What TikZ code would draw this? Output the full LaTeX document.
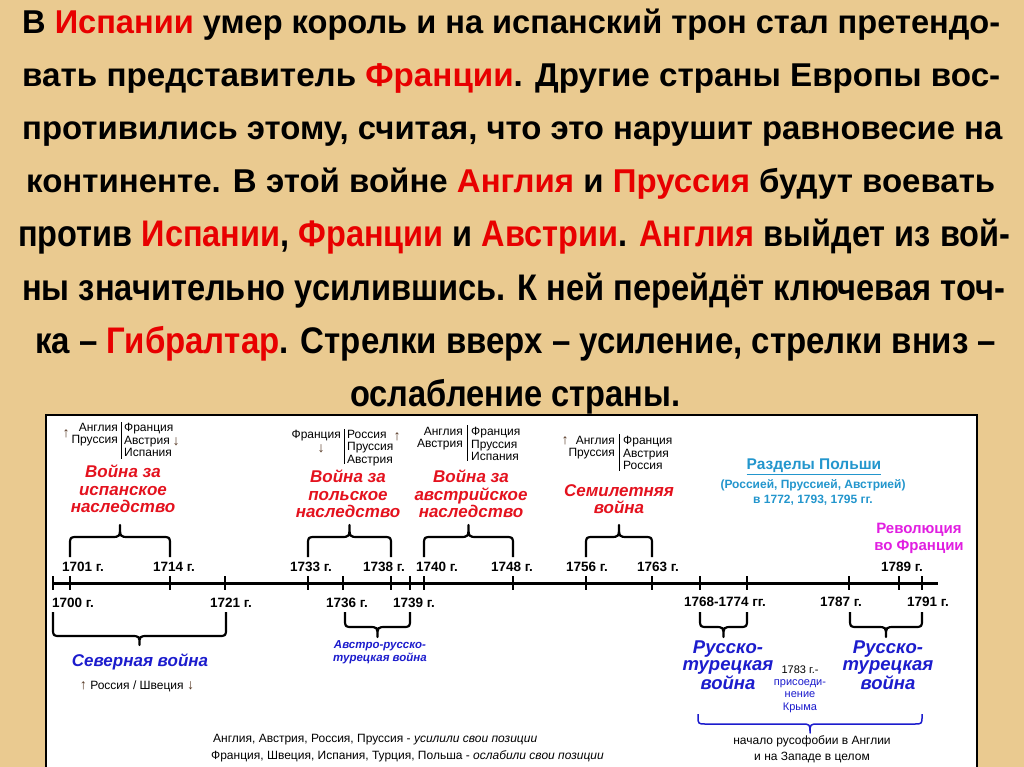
\documentclass[tikz,border=0pt]{standalone}
\usepackage{fontspec}
\usepackage{graphicx}
\setmainfont{Liberation Sans}
\definecolor{paper}{RGB}{234,202,144}
\definecolor{tred}{RGB}{232,0,0}
\definecolor{wred}{RGB}{228,18,30}
\definecolor{wblue}{RGB}{28,28,205}
\definecolor{pcyan}{RGB}{35,150,205}
\definecolor{rmag}{RGB}{225,30,225}
\definecolor{arr}{RGB}{85,55,35}
\newcommand{\R}[1]{\textcolor{tred}{#1}}
\newcommand{\fitw}[2]{\resizebox{#1pt}{\height}{#2}}
\newcommand{\curlyb}[7][brs]{%
  \pgfmathsetmacro\cbxc{(#2+#3)/2}%
  \draw[#1] (#2,#4) -- (#2,#6) .. controls (#2,#5) .. (#2+8,#5) -- (\cbxc-9,#5)
    .. controls (\cbxc,#5) .. (\cbxc,#7) .. controls (\cbxc,#5) .. (\cbxc+9,#5)
    -- (#3-8,#5) .. controls (#3,#5) .. (#3,#6) -- (#3,#4);}
\tikzset{
  ttl/.style={anchor=base west, inner sep=0, font=\bfseries\fontsize{33}{40}\selectfont},
  ttn/.style={anchor=base west, inner sep=0, font=\bfseries\fontsize{37}{40}\selectfont},
  yr/.style={inner sep=0, font=\bfseries\fontsize{13.5}{15}\selectfont},
  tickmark/.style={line width=2.4pt},
  ally/.style={inner sep=0, font=\fontsize{12}{12.5}\selectfont},
  allyL/.style={ally, anchor=north east, align=right},
  allyR/.style={ally, anchor=north west, align=left},
  bar/.style={line width=0.9pt},
  war/.style={inner sep=0, anchor=north, align=center, text=wred, font=\bfseries\itshape\fontsize{17}{17.5}\selectfont},
  bwar/.style={inner sep=0, align=center, text=wblue, font=\bfseries\itshape\fontsize{18.5}{17}\selectfont},
  brs/.style={line width=2.2pt, line join=round},
  arw/.style={inner sep=0, text=arr, font=\bfseries\fontsize{14}{14}\selectfont},
  small/.style={inner sep=0, align=center, font=\fontsize{11}{12.5}\selectfont},
}
\begin{document}
\begin{tikzpicture}[x=1pt,y=-1pt]
\useasboundingbox (0,0) rectangle (1024,767);
\fill[paper] (0,0) rectangle (1024,767);

% ---------- title text ----------
\node[ttl] (t1) at (22,34)  {\fitw{978}{В \R{Испании} умер король и на испанский трон стал претендо-}};
\node[ttl] (t2) at (22,87)  {\fitw{978}{вать представитель \R{Франции}. Другие страны Европы вос-}};
\node[ttl] (t3) at (22,140) {\fitw{980}{противились этому, считая, что это нарушит равновесие на}};
\node[ttl] (t4) at (26,193) {\fitw{969}{континенте. В этой войне \R{Англия} и \R{Пруссия} будут воевать}};
\node[ttn] (t5) at (18,247) {\fitw{992}{против \R{Испании}, \R{Франции} и \R{Австрии}. \R{Англия} выйдет из вой-}};
\node[ttn] (t6) at (22,300) {\fitw{983}{ны значительно усилившись. К ней перейдёт ключевая точ-}};
\node[ttn] (t7) at (35,353) {\fitw{961}{ка – \R{Гибралтар}. Стрелки вверх – усиление, стрелки вниз –}};
\node[ttn] (t8) at (350,406) {\fitw{330}{ослабление страны.}};

% ---------- timeline box ----------
\draw[line width=2.2pt, fill=white] (46,415) rectangle (977,790);

% axis
\coordinate (a0) at (52,583);
\coordinate (a1) at (938,583);
\draw[line width=3pt] (a0) -- (a1);
\foreach \x in {53,70,170,225,308,343,391,410,424,513,586,652,700,747,849,899,922}
  \draw[tickmark] (\x,576) -- (\x,590);

% years above
\node[yr] (y1701) at (83,567)  {1701 г.};
\node[yr] (y1714) at (174,567) {1714 г.};
\node[yr] (y1733) at (311,567) {1733 г.};
\node[yr] (y1738) at (384,567) {1738 г.};
\node[yr] (y1740) at (437,567) {1740 г.};
\node[yr] (y1748) at (512,567) {1748 г.};
\node[yr] (y1756) at (587,567) {1756 г.};
\node[yr] (y1763) at (658,567) {1763 г.};
\node[yr] (y1789) at (902,567) {1789 г.};
% years below
\node[yr] (y1700) at (73,603)  {1700 г.};
\node[yr] (y1721) at (231,603) {1721 г.};
\node[yr] (y1736) at (347,603) {1736 г.};
\node[yr] (y1739) at (414,603) {1739 г.};
\node[yr] (y1768) at (725,602) {1768-1774 гг.};
\node[yr] (y1787) at (841,602) {1787 г.};
\node[yr] (y1791) at (928,602) {1791 г.};

% braces above
\curlyb{70}{170}{557}{537}{545}{525}
\curlyb{308}{391}{557}{537}{545}{525}
\curlyb{424}{513}{557}{537}{545}{525}
\curlyb{586}{652}{557}{537}{545}{525}
% braces below
\curlyb{53}{226}{612}{636}{628}{645}
\curlyb{345}{410}{612}{627}{619}{637}
\curlyb{700}{747}{612}{627}{619}{637}
\curlyb{850}{922}{612}{627}{619}{637}
\curlyb[brs, draw=wblue, line width=1.5pt]{698}{922}{714}{724}{716}{733}

% ---------- Spanish succession ----------
\node[allyL] (esL) at (118,423) {Англия\\Пруссия};
\node[allyR] (esR) at (124,423) {Франция\\Австрия\\Испания};
\draw[bar] (121,422) -- (121,459);
\node[arw] (esU) at (66,434) {↑};
\node[arw] (esD) at (176,442) {↓};
\node[war] (esW) at (123,465) {Война за\\испанское\\наследство};

% ---------- Polish succession ----------
\node[allyL] (plL) at (341,430) {Франция};
\node[arw] (plD) at (321,449) {↓};
\draw[bar] (344,429) -- (344,464);
\node[allyR] (plR) at (347,430) {Россия\\Пруссия\\Австрия};
\node[arw] (plU) at (397,437) {↑};
\node[war] (plW) at (348,470) {Война за\\польское\\наследство};

% ---------- Austrian succession ----------
\node[allyL] (auL) at (463,427) {Англия\\Австрия};
\draw[bar] (467,425) -- (467,461);
\node[allyR] (auR) at (471,427) {Франция\\Пруссия\\Испания};
\node[war] (auW) at (471,470) {Война за\\австрийское\\наследство};

% ---------- Seven Years ----------
\node[arw] (swU) at (565,441) {↑};
\node[allyL] (swL) at (615,436) {Англия\\Пруссия};
\draw[bar] (619,434) -- (619,471);
\node[allyR] (swR) at (623,436) {Франция\\Австрия\\Россия};
\node[war] (swW) at (619,484) {Семилетняя\\война};

% ---------- Partitions of Poland ----------
\node[inner sep=0, text=pcyan, font=\bfseries\fontsize{15.5}{17}\selectfont] (pp1) at (814,467) {\underline{Разделы Польши}};
\node[inner sep=0, text=pcyan, font=\bfseries\fontsize{12}{14}\selectfont] (pp2) at (813,485) {(Россией, Пруссией, Австрией)};
\node[inner sep=0, text=pcyan, font=\bfseries\fontsize{12}{14}\selectfont] (pp3) at (813,500) {в 1772, 1793, 1795 гг.};

% ---------- Revolution ----------
\node[inner sep=0, align=center, text=rmag, font=\bfseries\fontsize{15}{17}\selectfont] (rev) at (919,538) {Революция\\во Франции};

% ---------- Northern war ----------
\node[inner sep=0, text=wblue, font=\bfseries\itshape\fontsize{17}{19}\selectfont] (nw) at (140,662) {Северная война};
\node[inner sep=0, font=\fontsize{12}{14}\selectfont] (nwc) at (137,686) {\textcolor{arr}{\bfseries\fontsize{14}{14}\selectfont ↑} Россия / Швеция \textcolor{arr}{\bfseries\fontsize{14}{14}\selectfont ↓}};

% ---------- Austro-Russian-Turkish ----------
\node[inner sep=0, align=center, text=wblue, font=\bfseries\itshape\fontsize{11.5}{13}\selectfont] (art) at (380,652) {Австро-русско-\\турецкая война};

% ---------- Russo-Turkish wars ----------
\node[bwar] (rt1) at (728,665) {Русско-\\турецкая\\война};
\node[bwar] (rt2) at (888,665) {Русско-\\турецкая\\война};
\node[small] (cr1) at (800,670) {1783 г.-};
\node[small, text=wblue] (cr2) at (800,696) {присоеди-\\нение\\Крыма};
\node[inner sep=0, align=center, font=\fontsize{12}{16}\selectfont] (rus) at (812,749) {начало русофобии в Англии\\и на Западе в целом};

% ---------- summary ----------
\node[inner sep=0, anchor=west, font=\fontsize{12}{14}\selectfont] (s1) at (213,740) {Англия, Австрия, Россия, Пруссия - \textit{усилили свои позиции}};
\node[inner sep=0, anchor=west, font=\fontsize{12}{14}\selectfont] (s2) at (211,756) {Франция, Швеция, Испания, Турция, Польша - \textit{ослабили свои позиции}};
\end{tikzpicture}
\end{document}
